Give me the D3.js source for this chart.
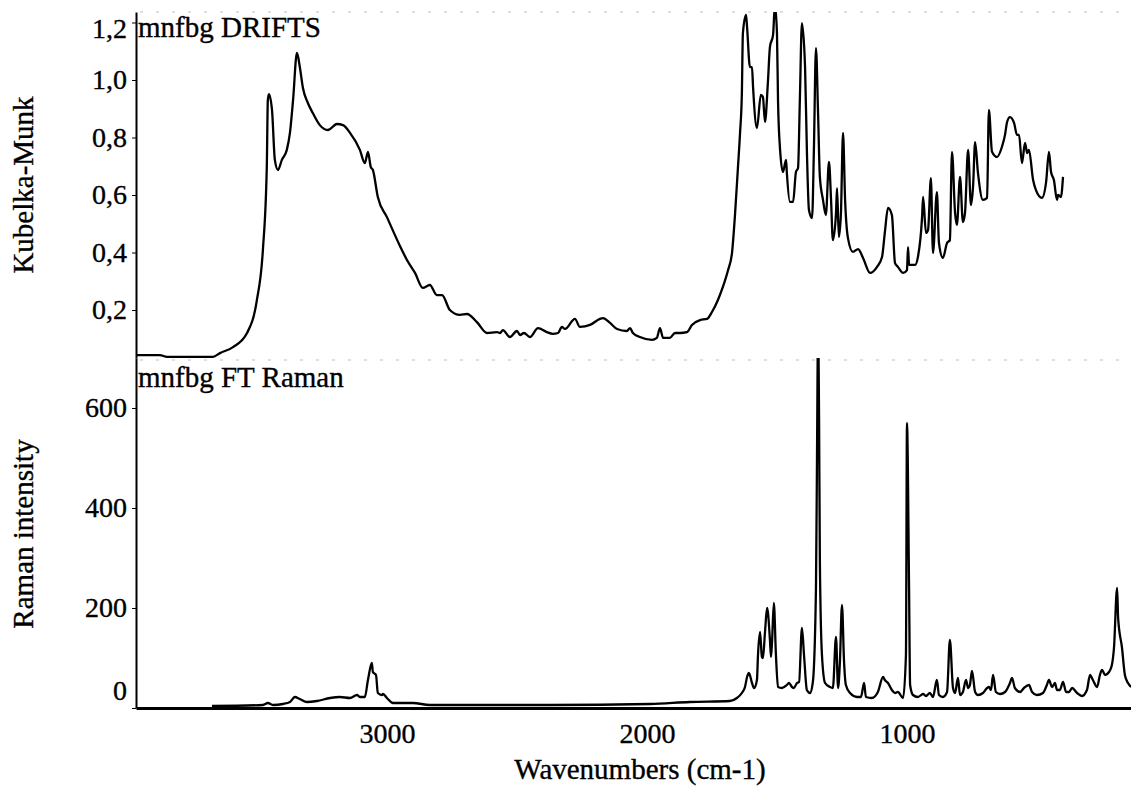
<!DOCTYPE html>
<html>
<head>
<meta charset="utf-8">
<script src="https://cdn.jsdelivr.net/npm/d3@7"></script>
<style>
  body { margin: 0; background: #fff; }
  svg { display: block; font-family: "Liberation Serif", "Times New Roman", serif; }
  text { stroke: #000; stroke-width: 0.35px; }
</style>
</head>
<body>
<script>
var w = 1131;
var h = 787;

// DRIFTS spectrum (wavenumber, Kubelka-Munk)
var driftsWn = [
  3965,3873,3846,3669,3642,3592,3538,3500,3477,3462,
  3458,3454,3442,3431,3419,3404,3385,3373,3361,3346,
  3335,3323,3304,3285,3258,3227,3192,3169,3142,3104,
  3085,3073,3062,3054,3035,3000,2950,2923,2892,2862,
  2835,2808,2788,2758,2719,2692,2654,2615,2577,2565,
  2554,2527,2500,2488,2473,2450,2419,2385,2362,2342,
  2327,2315,2277,2258,2219,2181,2169,2142,2115,2077,
  2065,2054,2027,1981,1962,1950,1938,1912,1892,1873,
  1846,1827,1796,1769,1750,1727,1708,1688,1673,1662,
  1650,1642,1635,1631,1619,1615,1604,1596,1592,1577,
  1562,1554,1546,1535,1527,1515,1508,1500,1496,1488,
  1477,1465,1462,1450,1438,1427,1419,1412,1404,1392,
  1385,1377,1365,1358,1350,1342,1335,1323,1312,1300,
  1292,1285,1273,1269,1262,1254,1246,1238,1227,1208,
  1188,1169,1142,1115,1096,1085,1073,1058,1046,1035,
  1015,1000,996,992,969,958,942,938,927,919,
  908,900,885,877,862,846,835,827,815,808,
  796,785,777,765,754,746,738,727,708,692,
  685,673,654,635,623,615,604,588,577,569,
  558,546,538,531,515,504,481,465,454,446,
  435,423,419,408,400
];
var driftsKM = [
  0.043,0.043,0.037,0.037,0.050,0.071,0.120,0.235,0.409,0.697,
  0.930,0.951,0.896,0.722,0.687,0.722,0.757,0.816,0.930,1.094,
  1.045,0.972,0.920,0.885,0.843,0.826,0.847,0.843,0.816,0.757,
  0.711,0.750,0.697,0.687,0.593,0.523,0.423,0.374,0.329,0.277,
  0.287,0.252,0.252,0.200,0.183,0.186,0.158,0.120,0.123,0.120,
  0.130,0.106,0.127,0.113,0.120,0.106,0.137,0.123,0.117,0.120,
  0.141,0.134,0.169,0.141,0.148,0.169,0.172,0.155,0.134,0.127,
  0.137,0.120,0.106,0.096,0.103,0.137,0.103,0.103,0.120,0.120,
  0.123,0.148,0.165,0.169,0.193,0.235,0.280,0.339,0.398,0.523,
  0.697,0.816,0.955,1.163,1.226,1.184,1.045,1.045,0.976,0.833,
  0.948,0.941,0.854,0.990,1.115,1.157,1.260,1.163,0.930,0.757,
  0.680,0.722,0.677,0.576,0.576,0.680,0.694,0.930,1.198,1.045,
  0.757,0.548,0.520,0.757,1.111,0.885,0.663,0.583,0.530,0.715,
  0.583,0.443,0.537,0.624,0.454,0.537,0.816,0.583,0.450,0.402,
  0.412,0.381,0.329,0.350,0.384,0.471,0.555,0.530,0.363,0.350,
  0.329,0.339,0.419,0.357,0.357,0.384,0.523,0.593,0.468,0.478,
  0.659,0.398,0.610,0.433,0.381,0.433,0.443,0.750,0.537,0.496,
  0.663,0.506,0.537,0.757,0.565,0.628,0.784,0.677,0.583,0.590,
  0.896,0.750,0.732,0.767,0.809,0.854,0.871,0.850,0.809,0.809,
  0.711,0.781,0.746,0.757,0.652,0.617,0.590,0.645,0.750,0.680,
  0.652,0.583,0.600,0.593,0.663
];

// FT Raman spectrum (wavenumber, intensity)
var ramanWn = [
  3673,3477,3458,3438,3400,3373,3354,3335,3308,3269,
  3219,3181,3142,3115,3104,3085,3073,3058,3054,3042,
  3035,3019,3015,3000,2977,2900,2835,2373,1988,1835,
  1681,1654,1635,1623,1615,1608,1596,1588,1577,1573,
  1565,1558,1554,1546,1538,1527,1523,1519,1512,1504,
  1496,1481,1462,1454,1442,1435,1423,1415,1404,1396,
  1385,1373,1362,1350,1346,1342,1338,1335,1327,1315,
  1296,1285,1273,1265,1258,1250,1242,1235,1219,1192,
  1177,1165,1158,1135,1112,1092,1085,1073,1058,1046,
  1035,1015,1004,1000,992,988,977,958,938,927,
  912,900,885,877,862,846,835,823,815,804,
  796,785,773,765,758,750,738,727,708,692,
  685,677,669,658,642,623,604,596,585,565,
  550,531,519,500,477,462,454,442,431,423,
  412,400,388,377,365,346,327,308,296,285,
  269,258,250,238,223,212,204,192,188,173,
  162,150,138
];
var ramanInt = [
  4,6,10,6,8,12,22,18,12,14,
  20,22,20,26,22,22,56,90,72,66,
  30,26,28,20,10,10,6,6,8,12,
  14,20,30,42,62,70,50,40,56,106,
  152,102,100,152,200,136,102,132,210,106,
  42,40,46,50,42,40,50,52,160,106,
  36,30,52,240,506,760,572,292,106,50,
  42,40,142,40,92,206,92,46,30,22,
  22,50,22,20,32,62,56,50,36,30,
  32,20,106,570,240,46,26,22,28,24,
  30,22,56,26,22,32,136,40,30,60,
  26,32,56,40,46,74,32,26,30,40,
  42,36,66,32,28,32,50,60,40,32,
  40,46,32,26,30,46,56,42,50,36,
  36,52,32,32,40,30,24,36,66,56,
  42,66,76,66,72,86,120,240,180,120,
  66,50,42
];

var xTicks = [3000, 2000, 1000];
var kmTicks = [0.2, 0.4, 0.6, 0.8, 1.0, 1.2];
var kmMinor = [0.1, 0.3, 0.5, 0.7, 0.9, 1.1];
var ramanTicks = [0, 200, 400, 600];
var ramanMinor = [50, 100, 150, 250, 300, 350, 450, 500, 550, 650];

var left = 136, right = 1131;
var topY0 = 12, topY1 = 358, botY0 = 358, botY1 = 708;

var x = d3.scaleLinear().domain([3965, 138.5]).range([left, right]);
var yTop = d3.scaleLinear().domain([0.033, 1.2365]).range([topY1, topY0]);
var yBot = d3.scaleLinear().domain([0, 700]).range([botY1, botY0]);

var svg = d3.select("body").append("svg").attr("width", w).attr("height", h);

var defs = svg.append("defs");
defs.append("clipPath").attr("id", "clipTop")
  .append("rect").attr("x", left).attr("y", topY0).attr("width", right - left).attr("height", topY1 - topY0);
defs.append("clipPath").attr("id", "clipBot")
  .append("rect").attr("x", left).attr("y", botY0).attr("width", right - left).attr("height", botY1 - botY0);

// faint dotted frame lines from the scan
[topY0, 360].forEach(function (yy) {
  svg.append("line")
    .attr("x1", left + 4).attr("x2", right - 10)
    .attr("y1", yy).attr("y2", yy)
    .attr("stroke", "#bdbdbd").attr("stroke-width", 1)
    .attr("stroke-dasharray", "3,13");
});

var drifts = d3.range(driftsWn.length).map(function (i) { return [driftsWn[i], driftsKM[i]]; });
var raman = d3.range(ramanWn.length).map(function (i) { return [ramanWn[i], ramanInt[i]]; });

var lineTop = d3.line()
  .x(function (d) { return x(d[0]); })
  .y(function (d) { return yTop(d[1]); })
  .curve(d3.curveMonotoneX);
var lineBot = d3.line()
  .x(function (d) { return x(d[0]); })
  .y(function (d) { return yBot(d[1]); })
  .curve(d3.curveMonotoneX);

svg.append("path").datum(drifts)
  .attr("clip-path", "url(#clipTop)")
  .attr("d", lineTop)
  .attr("fill", "none").attr("stroke", "#000").attr("stroke-width", 2.3)
  .attr("stroke-linejoin", "round");

svg.append("path").datum(raman)
  .attr("clip-path", "url(#clipBot)")
  .attr("d", lineBot)
  .attr("fill", "none").attr("stroke", "#000").attr("stroke-width", 2.3)
  .attr("stroke-linejoin", "round");

function commaFmt(d) { return d3.format(".1f")(d).replace(".", ","); }

// top y axis
var gTop = svg.append("g").attr("transform", "translate(" + left + ",0)");
gTop.call(d3.axisLeft(yTop).tickValues(kmMinor).tickSize(3).tickSizeOuter(0).tickFormat(""));
gTop.call(d3.axisLeft(yTop).tickValues(kmTicks).tickSize(4).tickPadding(5).tickSizeOuter(0).tickFormat(commaFmt));

// bottom y axis
var gBot = svg.append("g").attr("transform", "translate(" + left + ",0)");
gBot.call(d3.axisLeft(yBot).tickValues(ramanMinor).tickSize(3).tickSizeOuter(0).tickFormat(""));
gBot.call(d3.axisLeft(yBot).tickValues(ramanTicks).tickSize(4).tickPadding(5).tickSizeOuter(0));

// x axis
var gX = svg.append("g").attr("transform", "translate(0," + botY1 + ")");
gX.call(d3.axisBottom(x).tickValues(xTicks).tickSize(0).tickPadding(15).tickSizeOuter(0).tickFormat(d3.format("d")));

svg.selectAll(".tick text").attr("font-size", "28px").attr("font-family", "Liberation Serif").attr("fill", "#000");
svg.selectAll(".domain").attr("stroke", "#000").attr("stroke-width", 2);
gX.select(".domain").attr("stroke-width", 3);
svg.selectAll(".tick line").attr("stroke", "#000");

// nudge end labels like the original
gTop.selectAll(".tick text").filter(function (d) { return d === 1.2; }).attr("dy", "0.55em");
gBot.selectAll(".tick text").filter(function (d) { return d === 0; }).attr("dy", "-0.32em");

// titles
svg.append("text").attr("transform", "translate(33,185) rotate(-90)")
  .attr("text-anchor", "middle").attr("font-size", "29px").text("Kubelka-Munk");
svg.append("text").attr("transform", "translate(33,534) rotate(-90)")
  .attr("text-anchor", "middle").attr("font-size", "29px").text("Raman intensity");
svg.append("text").attr("x", 640).attr("y", 779)
  .attr("text-anchor", "middle").attr("font-size", "29px").text("Wavenumbers (cm-1)");

svg.append("text").attr("x", 138).attr("y", 37).attr("font-size", "29px").text("mnfbg DRIFTS");
svg.append("text").attr("x", 138).attr("y", 387).attr("font-size", "29px").text("mnfbg FT Raman");
</script>
</body>
</html>
